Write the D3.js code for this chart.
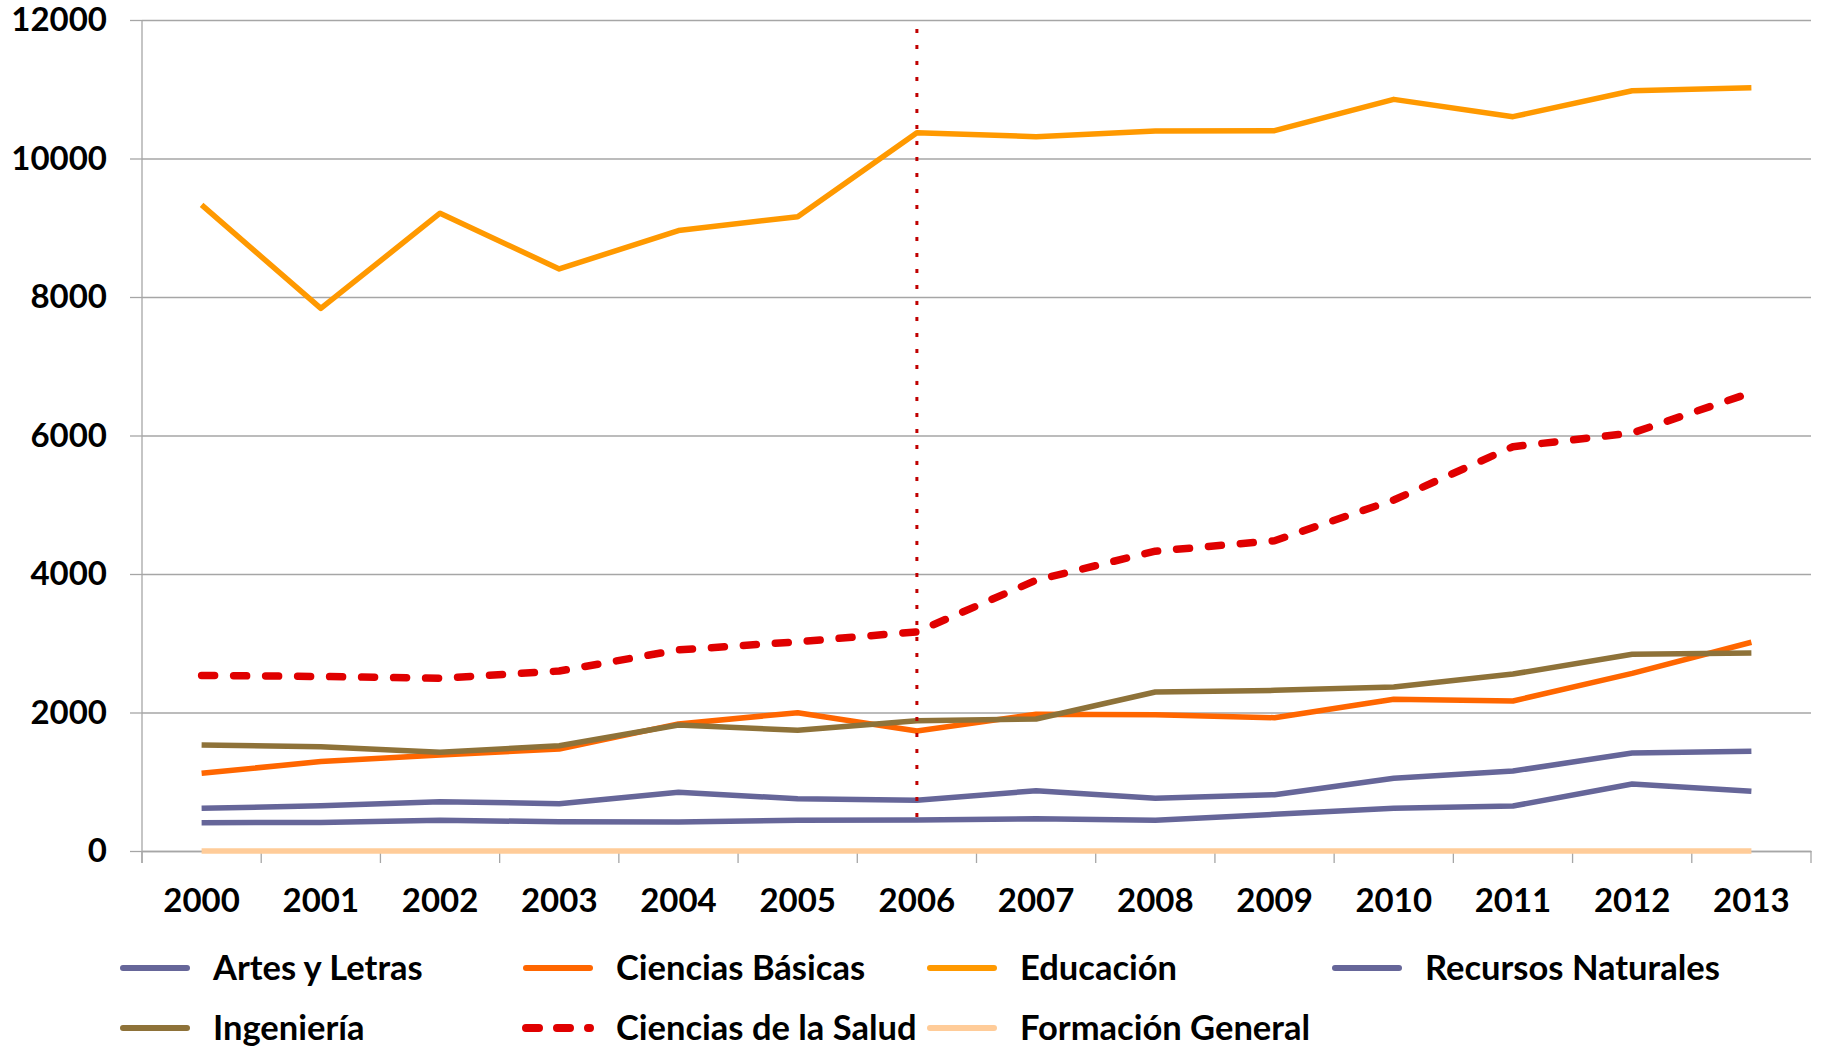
<!DOCTYPE html>
<html>
<head>
<meta charset="utf-8">
<script src="https://cdn.jsdelivr.net/npm/d3@7"></script>
<style>
  body { margin: 0; background: #fff; }
  svg { display: block; font-family: Lato, "Open Sans", sans-serif; font-weight: bold; }
</style>
</head>
<body>
<svg width="1824" height="1047"></svg>
<script>
// years on the x axis
var years = ["2000","2001","2002","2003","2004","2005","2006","2007","2008","2009","2010","2011","2012","2013"];
var yTicks = [0, 2000, 4000, 6000, 8000, 10000, 12000];
var markYear = "2006"; // dotted vertical marker

var artesLetras   = [616, 654, 712, 683, 848, 755, 732, 871, 761, 813, 1050, 1155, 1415, 1440];
var cienciasBasic = [1122, 1292, 1386, 1473, 1835, 1997, 1733, 1974, 1969, 1925, 2191, 2166, 2566, 3014];
var educacion     = [9330, 7835, 9210, 8405, 8960, 9160, 10373, 10315, 10397, 10402, 10854, 10604, 10979, 11022];
var recursosNat   = [409, 413, 443, 423, 418, 443, 448, 466, 443, 530, 616, 650, 967, 862];
var ingenieria    = [1531, 1506, 1425, 1521, 1820, 1743, 1882, 1906, 2296, 2320, 2368, 2556, 2840, 2859];
var cienciasSalud = [2535, 2520, 2494, 2599, 2904, 3021, 3165, 3910, 4330, 4481, 5069, 5838, 6036, 6620];
var formacionGen  = [0, 0, 0, 0, 0, 0, 0, 0, 0, 0, 0, 0, 0, 0];

var series = [
  {name:"Artes y Letras",       values:artesLetras,   color:"#666699", w:5.5, dash:null},
  {name:"Ciencias Básicas",     values:cienciasBasic, color:"#ff6600", w:5.5, dash:null},
  {name:"Educación",            values:educacion,     color:"#ff9900", w:5.5, dash:null},
  {name:"Recursos Naturales",   values:recursosNat,   color:"#666699", w:5.5, dash:null},
  {name:"Ingeniería",           values:ingenieria,    color:"#8e7239", w:5.5, dash:null},
  {name:"Ciencias de la Salud", values:cienciasSalud, color:"#e00000", w:7.5, dash:"13,19"},
  {name:"Formación General",    values:formacionGen,  color:"#ffcc99", w:5.5, dash:null}
];

var pL = 142, pR = 1811, pT = 20, pB = 851; // plot box
var svg = d3.select("svg");

var x = d3.scaleBand().domain(years).range([pL, pR]);
var y = d3.scaleLinear().domain([0, 12000]).range([pB, pT]);
var cx = function(d){ return x(d) + x.bandwidth()/2; };

// gridlines
svg.append("g").attr("transform","translate("+pL+",0)")
  .call(d3.axisLeft(y).tickValues(yTicks).tickSize(-(pR-pL)).tickFormat(""))
  .call(function(g){ g.select(".domain").remove();
    g.selectAll("line").attr("stroke","#a6a6a6").attr("stroke-width",1.3); });

// y axis
svg.append("g").attr("transform","translate("+pL+",0)")
  .call(d3.axisLeft(y).tickValues(yTicks).tickFormat(d3.format("d")).tickSize(12).tickPadding(23).tickSizeOuter(0))
  .call(function(g){
    g.select(".domain").remove();
    g.selectAll("line").attr("stroke","#a6a6a6").attr("stroke-width",1.3);
    g.selectAll("text").attr("font-size",33).attr("fill","#000").attr("font-family","Lato");
  });
svg.append("line").attr("x1",pL).attr("x2",pL).attr("y1",pT).attr("y2",pB+12)
  .attr("stroke","#a6a6a6").attr("stroke-width",1.3);

// x axis
var xg = svg.append("g").attr("transform","translate(0,"+pB+")")
  .call(d3.axisBottom(x).tickSize(0).tickSizeOuter(0))
  .call(function(g){
    g.select(".domain").attr("stroke","#a6a6a6").attr("stroke-width",1.3);
    g.selectAll("text").attr("font-size",33).attr("fill","#000").attr("font-family","Lato")
      .attr("y",61).attr("dy",null);
  });
xg.selectAll(".bound").data(years.concat(["end"])).enter().append("line")
  .attr("x1",function(d){ return d=="end"? pR : x(d); })
  .attr("x2",function(d){ return d=="end"? pR : x(d); })
  .attr("y1",0).attr("y2",12)
  .attr("stroke","#a6a6a6").attr("stroke-width",1.3);

// lines
var line = d3.line().x(function(d,i){ return cx(years[i]); }).y(function(d){ return y(d); });
svg.selectAll(".series").data(series).enter().append("path")
  .attr("d",function(s){ return line(s.values); })
  .attr("fill","none")
  .attr("stroke",function(s){ return s.color; })
  .attr("stroke-width",function(s){ return s.w; })
  .attr("stroke-dasharray",function(s){ return s.dash; })
  .attr("stroke-linecap",function(s){ return s.dash? "round":"butt"; })
  .attr("stroke-linejoin","round");

// dotted marker
svg.append("line")
  .attr("x1",cx(markYear)).attr("x2",cx(markYear))
  .attr("y1",y(11870)).attr("y2",y(320))
  .attr("stroke","#c00000").attr("stroke-width",3).attr("stroke-dasharray","4,12");

// legend
var legX = [120, 523, 927, 1332], legY = [968, 1028];
var leg = svg.selectAll(".leg").data(series).enter().append("g")
  .attr("transform",function(s,i){ return "translate("+legX[i%4]+","+legY[Math.floor(i/4)]+")"; });
leg.append("line").attr("x1",3).attr("x2",67).attr("y1",0).attr("y2",0)
  .attr("stroke",function(s){ return s.color; })
  .attr("stroke-width",function(s){ return s.dash? 8 : 6; })
  .attr("stroke-dasharray",function(s){ return s.dash? "13,18" : null; })
  .attr("stroke-linecap","round");
leg.append("text").attr("x",93).attr("y",0).attr("dy","0.35em")
  .attr("font-size",34.5).attr("fill","#000")
  .text(function(s){ return s.name; });
</script>
</body>
</html>
